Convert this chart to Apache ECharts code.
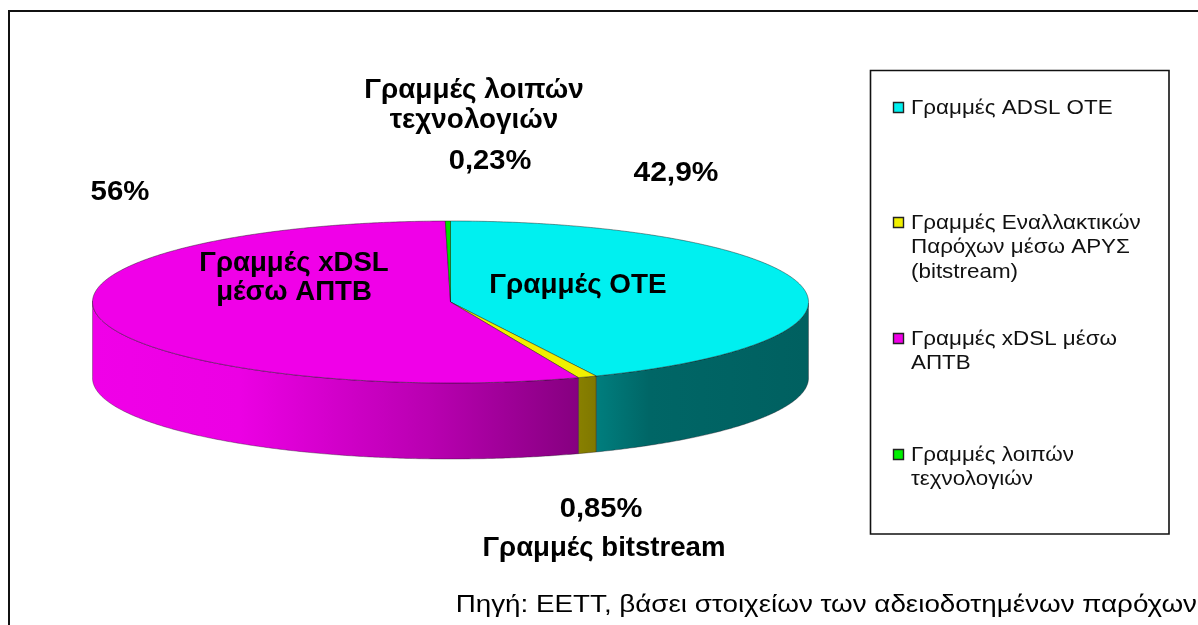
<!DOCTYPE html>
<html><head><meta charset="utf-8">
<style>html,body{margin:0;padding:0;background:#fff}#c{width:1198px;height:625px}</style>
<script src="https://cdn.jsdelivr.net/npm/echarts@6/dist/echarts.min.js"></script>
</head><body><div id="c"></div>
<script>
const categories = ['Γραμμές ADSL ΟΤΕ', 'Γραμμές Εναλλακτικών\nΠαρόχων μέσω ΑΡΥΣ\n(bitstream)', 'Γραμμές xDSL μέσω\nΑΠΤΒ', 'Γραμμές λοιπών\nτεχνολογιών'];
const values = [42.9, 0.85, 56, 0.23];
const valueLabels = ['42,9%', '0,85%', '56%', '0,23%'];
const sliceNames = ['Γραμμές ΟΤΕ', 'Γραμμές bitstream', 'Γραμμές xDSL\nμέσω ΑΠΤΒ', 'Γραμμές λοιπών\nτεχνολογιών'];
const sourceNote = 'Πηγή: ΕΕΤΤ, βάσει στοιχείων των αδειοδοτημένων παρόχων';

const topColors = ['#00F0F0', '#F0F000', '#F000E8', '#00E000'];
const swatchColors = ['#00F0F0', '#F0F000', '#F000E8', '#00F000'];
const wallStops = [
  [[0, '#007E7E'], [0.25, '#006666'], [1, '#006060']],
  [[0, '#888000'], [1, '#807800']],
  [[0, '#860080'], [0.3, '#B800B0'], [0.7, '#EC00E4'], [1, '#F000E8']],
  [[0, '#007800'], [1, '#007800']]
];
const pie = {cx: 450.5, cy: 302, a: 358, b: 81, depth: 76, warp: 1.6};
const total = values.reduce((s, v) => s + v, 0);
const pt = (deg, dy) => {
  // the small angle term stands in for the 3-D view's perspective
  const r0 = deg * Math.PI / 180;
  const r = (deg + pie.warp * (1 - Math.cos(r0)) / 2) * Math.PI / 180;
  return [pie.cx + pie.a * Math.sin(r), pie.cy - pie.b * Math.cos(r) + (dy || 0)];
};
const arc = (from, to, dy) => {
  const n = Math.max(2, Math.ceil(Math.abs(to - from) * 2)), out = [];
  for (let i = 0; i <= n; i++) out.push(pt(from + (to - from) * i / n, dy));
  return out;
};

function renderSlice(params, api) {
  const i = params.dataIndex;
  let acc = 0;
  for (let k = 0; k < i; k++) acc += values[k];
  const v = api.value(0);
  const from = acc / total * 360;
  const to = from + v / total * 360;
  const children = [];
  const wf = Math.max(from, 90), wt = Math.min(to, 270);
  if (wt > wf) {
    const upper = arc(wf, wt, 0), lower = arc(wt, wf, pie.depth);
    const xs = upper.map(p => p[0]);
    children.push({
      type: 'polygon', z2: 1,
      shape: {points: upper.concat(lower)},
      style: {
        fill: {type: 'linear', global: true, x: Math.min(...xs), y: 0, x2: Math.max(...xs), y2: 0,
          colorStops: (i === 2 ? wallStops[i].map(s => ({offset: 1 - s[0], color: s[1]})).reverse() : wallStops[i].map(s => ({offset: s[0], color: s[1]})))},
        stroke: 'rgba(30,20,30,0.45)', lineWidth: 0.8
      }
    });
  }
  children.push({
    type: 'polygon', z2: 2,
    shape: {points: [[pie.cx, pie.cy]].concat(arc(from, to, 0))},
    style: {fill: topColors[i], stroke: 'rgba(20,20,20,0.55)', lineWidth: 0.8}
  });
  return {type: 'group', children};
}

const boldText = (text, x, y, sx, lh) => ({
  type: 'text', x, y, z: 10, scaleX: sx,
  style: {text, fontFamily: 'Liberation Sans', fontWeight: 'bold', fontSize: 28, lineHeight: lh || 30, fill: '#000', textAlign: 'center', textVerticalAlign: 'middle'}
});

const graphic = [
  {type: 'polyline', z: 1, shape: {points: [[1198, 11], [9, 11], [9, 625]]}, style: {stroke: '#111', lineWidth: 2, fill: 'none'}},
  {type: 'rect', z: 1, shape: {x: 870.5, y: 70.5, width: 298.5, height: 463.5}, style: {fill: '#fff', stroke: '#111', lineWidth: 1.6}},
  boldText(sliceNames[3], 474, 105, 0.995),
  boldText(valueLabels[3], 490, 161, 1.04),
  boldText(valueLabels[0], 676, 173, 1.07),
  boldText(valueLabels[2], 120, 192, 1.05),
  boldText(sliceNames[2], 294, 277.5, 0.985, 29),
  boldText(sliceNames[0], 578, 285, 0.995),
  boldText(valueLabels[1], 601, 509, 1.04),
  boldText(sliceNames[1], 604, 548, 0.985),
  {type: 'text', x: 1197, y: 605, z: 10, scaleX: 1.157, style: {text: sourceNote, fontFamily: 'Liberation Sans', fontSize: 24, fill: '#000', textAlign: 'right', textVerticalAlign: 'middle'}}
];
const legendTops = [108, 223, 339, 455];
categories.forEach((name, i) => {
  graphic.push({type: 'rect', z: 5, shape: {x: 893.5, y: legendTops[i] - 5.5, width: 10, height: 10}, style: {fill: swatchColors[i], stroke: '#222', lineWidth: 1.4}});
  graphic.push({type: 'text', x: 911, y: legendTops[i] - 12, z: 5, scaleX: 1.12, style: {text: name, fontFamily: 'Liberation Sans', fontSize: 20, lineHeight: 24.5, fill: '#111', textAlign: 'left', textVerticalAlign: 'top'}});
});

const chart = echarts.init(document.getElementById('c'), null, {renderer: 'canvas'});
chart.setOption({
  animation: false,
  backgroundColor: '#fff',
  graphic: graphic,
  series: [{type: 'custom', coordinateSystem: 'none', silent: true, z: 2, renderItem: renderSlice, data: values.map((v, i) => ({name: categories[i], value: [v]}))}]
});
</script></body></html>
